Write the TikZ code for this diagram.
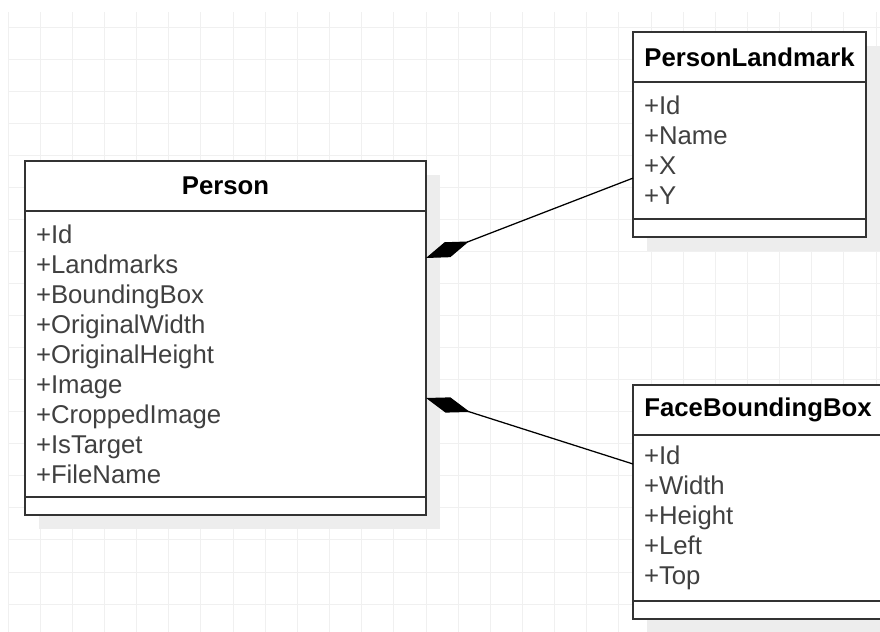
\documentclass[tikz,border=0pt]{standalone}
\usepackage{fontspec}
\setmainfont{Liberation Sans}
\usetikzlibrary{arrows.meta,positioning,backgrounds}

\newcommand{\classfont}{\fontsize{18.3}{21.34}\selectfont}

\begin{document}
\begin{tikzpicture}[
  umltitle/.style={draw=black!80, line width=1.1pt, fill=white, font=\classfont\bfseries, minimum width=#1, minimum height=1.25cm, inner sep=0pt, outer sep=0pt},
  umlattrs/.style 2 args={draw=black!80, line width=1.1pt, fill=white, font=\classfont, text=black!75, align=left, text width=#1, minimum height=#2, inner xsep=0.275cm, inner ysep=0pt, outer sep=0pt},
  umlfoot/.style={draw=black!80, line width=1.1pt, fill=white, minimum width=#1, minimum height=0.45cm, inner sep=0pt, outer sep=0pt},
  composition/.style={draw=black, line width=0.9pt, -{Diamond[length=1.15cm, width=0.4cm]}},
  gridline/.style={draw=black!6, line width=0.6pt},
  shadowgray/.style={fill=black!7}
]
\path [use as bounding box, clip] (0,0) rectangle (22,-15.8);

% Person class
\node (person) at (0.625,-4.025) [umltitle=10.025cm, anchor=north west] {Person};
\node (personattr) [umlattrs={9.475cm}{7.15cm}, below=0pt of person] {+Id\\+Landmarks\\+BoundingBox\\+OriginalWidth\\+OriginalHeight\\+Image\\+CroppedImage\\+IsTarget\\+FileName};
\node (personops) [umlfoot=10.025cm, below=0pt of personattr] {};

% PersonLandmark class
\node (landmark) at (15.825,-0.8) [umltitle=5.825cm, anchor=north west] {PersonLandmark};
\node (landmarkattr) [umlattrs={5.275cm}{3.425cm}, below=0pt of landmark] {+Id\\+Name\\+X\\+Y};
\node (landmarkops) [umlfoot=5.825cm, below=0pt of landmarkattr] {};

% FaceBoundingBox class
\node (facebox) at (15.825,-9.625) [umltitle=6.25cm, anchor=north west] {FaceBoundingBox};
\node (faceboxattr) [umlattrs={5.7cm}{4.15cm}, below=0pt of facebox] {+Id\\+Width\\+Height\\+Left\\+Top};
\node (faceboxops) [umlfoot=6.25cm, below=0pt of faceboxattr] {};

% Compositions
\draw [composition] ([yshift=-0.69cm]landmarkattr.west) -- ([yshift=2.4cm]personattr.east);
\draw [composition] ([yshift=1.35cm]faceboxattr.west) -- ([yshift=-1.1cm]personattr.east);

\begin{scope}[on background layer]
  % grid
  \foreach \i in {0,...,27}
    \draw [gridline] ({0.2+0.8037*\i},-0.3) -- ({0.2+0.8037*\i},-15.8);
  \foreach \j in {0,...,18}
    \draw [gridline] (0.2,{-0.675-0.8014*\j}) -- (22,{-0.675-0.8014*\j});
  % shadows
  \path [shadowgray] ([shift={(0.34,-0.34)}]person.north west) rectangle ([shift={(0.34,-0.34)}]personops.south east);
  \path [shadowgray] ([shift={(0.34,-0.34)}]landmark.north west) rectangle ([shift={(0.34,-0.34)}]landmarkops.south east);
  \path [shadowgray] ([shift={(0.34,-0.34)}]facebox.north west) rectangle ([shift={(0.34,-0.34)}]faceboxops.south east);
\end{scope}
\end{tikzpicture}
\end{document}
